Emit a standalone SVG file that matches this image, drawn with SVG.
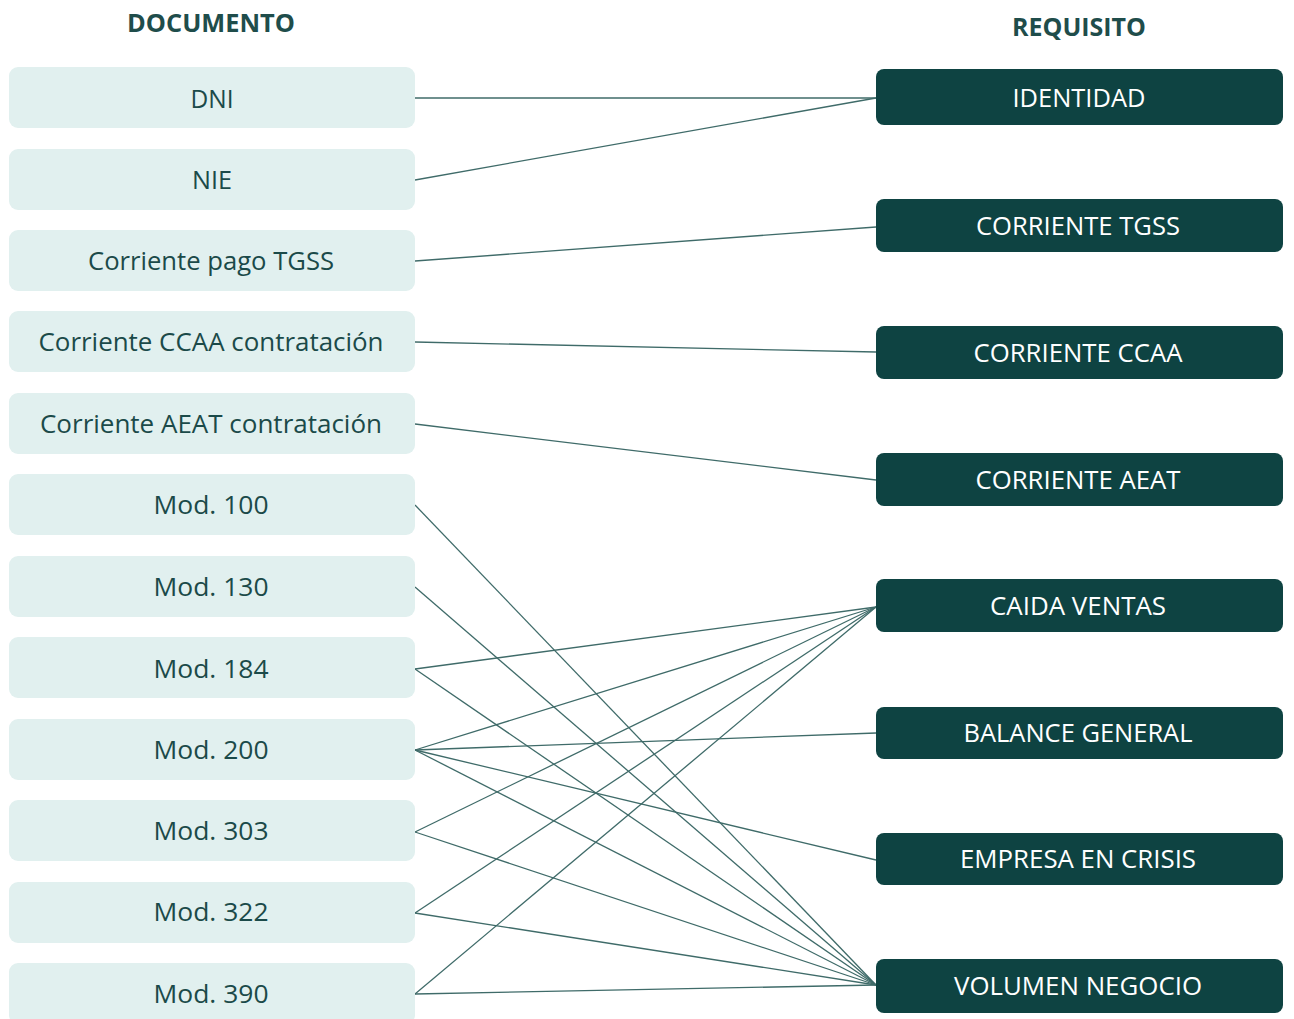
<svg xmlns="http://www.w3.org/2000/svg" width="1294" height="1019" viewBox="0 0 1294 1019">
<style>
.doc{fill:#e1f0ef}
.req{fill:#0e4342}
.dt{font-family:"Open Sans","Noto Sans",sans-serif;font-size:25px;fill:#1b4a49;text-anchor:middle}
.rt{font-family:"Open Sans","Noto Sans",sans-serif;font-size:25px;fill:#ffffff;text-anchor:middle}
.hd{font-family:"Open Sans","Noto Sans",sans-serif;font-size:25px;font-weight:bold;fill:#1f4d4b;text-anchor:middle}
.cn line{stroke:#3f6b69;stroke-width:1.3}
</style>
<rect width="1294" height="1019" fill="#ffffff"/>
<text class="hd" x="211" y="32" textLength="168" lengthAdjust="spacingAndGlyphs">DOCUMENTO</text>
<text class="hd" x="1079" y="36" textLength="134" lengthAdjust="spacingAndGlyphs">REQUISITO</text>

<g id="connectors" class="cn">
<line x1="415" y1="98" x2="876" y2="98"/>
<line x1="415" y1="180" x2="876" y2="98"/>
<line x1="415" y1="261" x2="876" y2="227"/>
<line x1="415" y1="342" x2="876" y2="352"/>
<line x1="415" y1="424" x2="876" y2="480"/>
<line x1="415" y1="505" x2="876" y2="985"/>
<line x1="415" y1="587" x2="876" y2="985"/>
<line x1="415" y1="669" x2="876" y2="607"/>
<line x1="415" y1="669" x2="876" y2="985"/>
<line x1="415" y1="750" x2="876" y2="607"/>
<line x1="415" y1="750" x2="876" y2="733"/>
<line x1="415" y1="750" x2="876" y2="860"/>
<line x1="415" y1="750" x2="876" y2="985"/>
<line x1="415" y1="832" x2="876" y2="607"/>
<line x1="415" y1="832" x2="876" y2="985"/>
<line x1="415" y1="913" x2="876" y2="607"/>
<line x1="415" y1="913" x2="876" y2="985"/>
<line x1="415" y1="994" x2="876" y2="607"/>
<line x1="415" y1="994" x2="876" y2="985"/>
</g>

<g id="doc-dni"><rect class="doc" x="9" y="67" width="406" height="61" rx="9"/><text class="dt" x="212" y="108" textLength="43" lengthAdjust="spacingAndGlyphs">DNI</text></g>
<g id="doc-nie"><rect class="doc" x="9" y="149" width="406" height="61" rx="9"/><text class="dt" x="212" y="189" textLength="40" lengthAdjust="spacingAndGlyphs">NIE</text></g>
<g id="doc-tgss"><rect class="doc" x="9" y="230" width="406" height="61" rx="9"/><text class="dt" x="211" y="270" textLength="246" lengthAdjust="spacingAndGlyphs">Corriente pago TGSS</text></g>
<g id="doc-ccaa"><rect class="doc" x="9" y="311" width="406" height="61" rx="9"/><text class="dt" x="211" y="351" textLength="345" lengthAdjust="spacingAndGlyphs">Corriente CCAA contratación</text></g>
<g id="doc-aeat"><rect class="doc" x="9" y="393" width="406" height="61" rx="9"/><text class="dt" x="211" y="433" textLength="342" lengthAdjust="spacingAndGlyphs">Corriente AEAT contratación</text></g>
<g id="doc-100"><rect class="doc" x="9" y="474" width="406" height="61" rx="9"/><text class="dt" x="211" y="514" textLength="115" lengthAdjust="spacingAndGlyphs">Mod. 100</text></g>
<g id="doc-130"><rect class="doc" x="9" y="556" width="406" height="61" rx="9"/><text class="dt" x="211" y="596" textLength="115" lengthAdjust="spacingAndGlyphs">Mod. 130</text></g>
<g id="doc-184"><rect class="doc" x="9" y="637" width="406" height="61" rx="9"/><text class="dt" x="211" y="678" textLength="115" lengthAdjust="spacingAndGlyphs">Mod. 184</text></g>
<g id="doc-200"><rect class="doc" x="9" y="719" width="406" height="61" rx="9"/><text class="dt" x="211" y="759" textLength="115" lengthAdjust="spacingAndGlyphs">Mod. 200</text></g>
<g id="doc-303"><rect class="doc" x="9" y="800" width="406" height="61" rx="9"/><text class="dt" x="211" y="840" textLength="115" lengthAdjust="spacingAndGlyphs">Mod. 303</text></g>
<g id="doc-322"><rect class="doc" x="9" y="882" width="406" height="61" rx="9"/><text class="dt" x="211" y="921" textLength="115" lengthAdjust="spacingAndGlyphs">Mod. 322</text></g>
<g id="doc-390"><rect class="doc" x="9" y="963" width="406" height="61" rx="9"/><text class="dt" x="211" y="1003" textLength="115" lengthAdjust="spacingAndGlyphs">Mod. 390</text></g>

<g id="req-identidad"><rect class="req" x="876" y="69" width="407" height="56" rx="8"/><text class="rt" x="1079" y="107" textLength="133" lengthAdjust="spacingAndGlyphs">IDENTIDAD</text></g>
<g id="req-tgss"><rect class="req" x="876" y="199" width="407" height="53" rx="8"/><text class="rt" x="1078" y="235" textLength="204" lengthAdjust="spacingAndGlyphs">CORRIENTE TGSS</text></g>
<g id="req-ccaa"><rect class="req" x="876" y="326" width="407" height="53" rx="8"/><text class="rt" x="1078" y="362" textLength="209" lengthAdjust="spacingAndGlyphs">CORRIENTE CCAA</text></g>
<g id="req-aeat"><rect class="req" x="876" y="453" width="407" height="53" rx="8"/><text class="rt" x="1078" y="489" textLength="205" lengthAdjust="spacingAndGlyphs">CORRIENTE AEAT</text></g>
<g id="req-caida"><rect class="req" x="876" y="579" width="407" height="53" rx="8"/><text class="rt" x="1078" y="615" textLength="176" lengthAdjust="spacingAndGlyphs">CAIDA VENTAS</text></g>
<g id="req-balance"><rect class="req" x="876" y="707" width="407" height="52" rx="8"/><text class="rt" x="1078" y="742" textLength="229" lengthAdjust="spacingAndGlyphs">BALANCE GENERAL</text></g>
<g id="req-crisis"><rect class="req" x="876" y="833" width="407" height="52" rx="8"/><text class="rt" x="1078" y="868" textLength="236" lengthAdjust="spacingAndGlyphs">EMPRESA EN CRISIS</text></g>
<g id="req-volumen"><rect class="req" x="876" y="959" width="407" height="54" rx="8"/><text class="rt" x="1078" y="995" textLength="248" lengthAdjust="spacingAndGlyphs">VOLUMEN NEGOCIO</text></g>
</svg>
